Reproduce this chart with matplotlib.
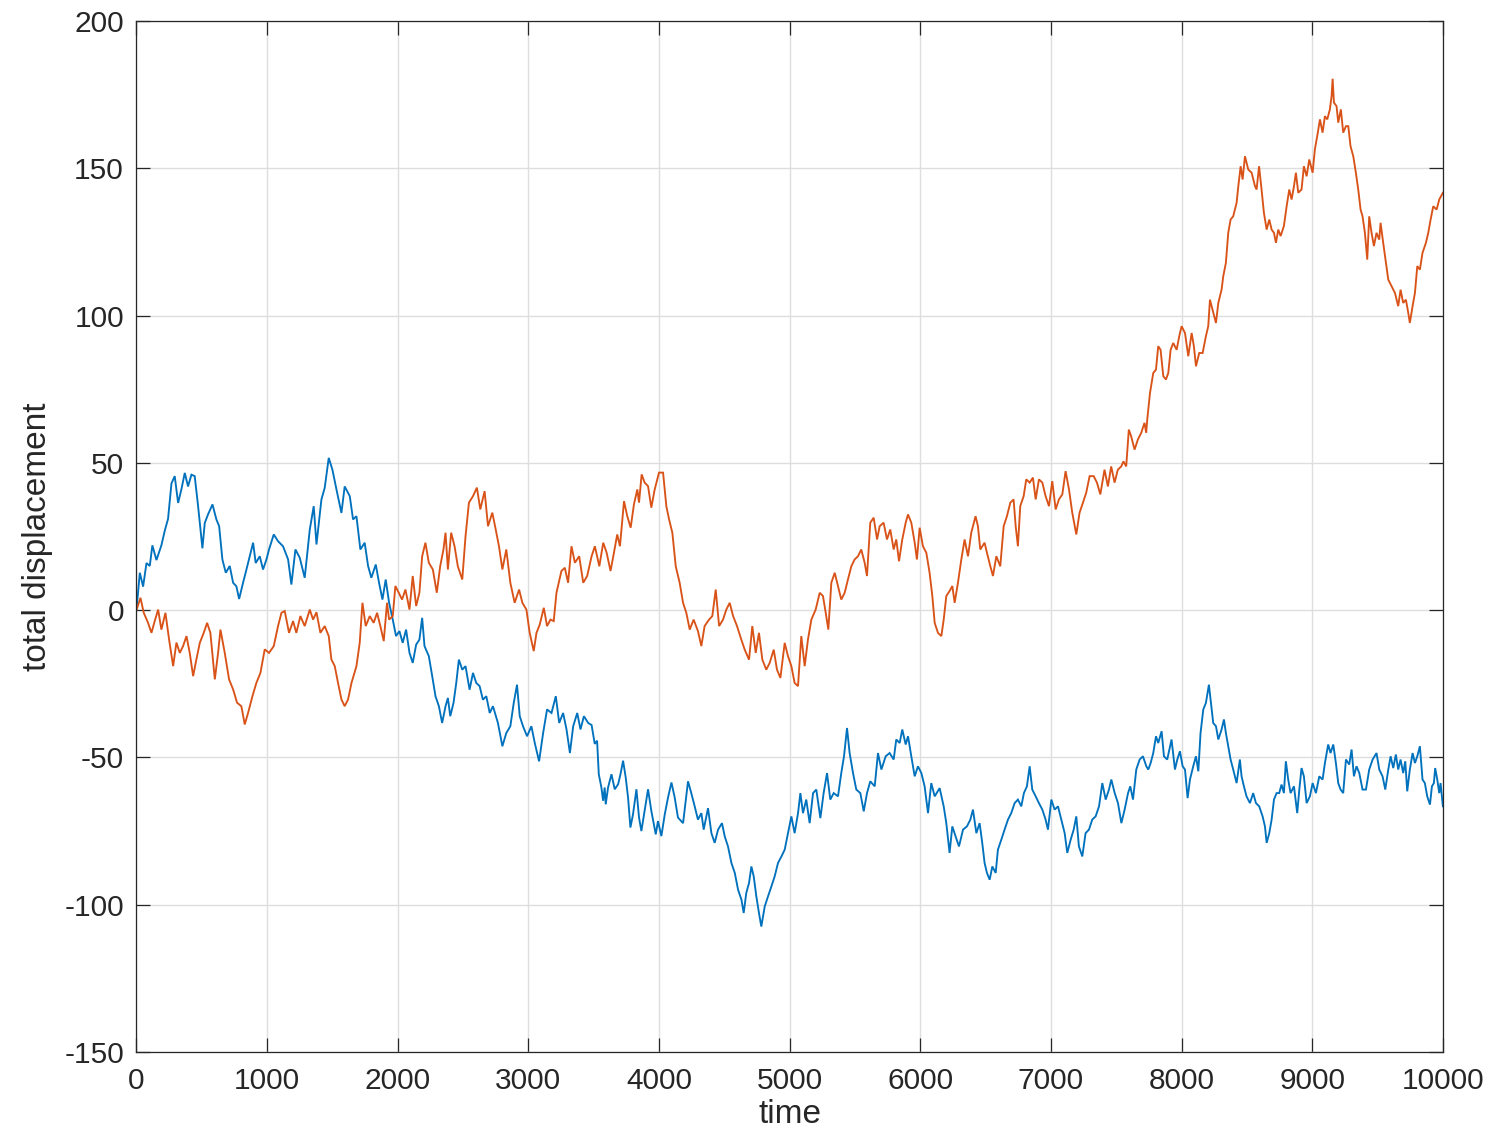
import matplotlib
matplotlib.use("Agg")
import matplotlib.pyplot as plt

# Walker 1 (blue): time step and total displacement
t_blue = [
    0, 26, 51, 77, 102, 122, 153, 191, 217, 242, 268, 293, 319, 344, 370, 395, 421, 446, 472, 505,
    523, 548, 582, 612, 633, 658, 684, 714, 740, 765, 786, 816, 842, 867, 893, 913, 944, 969, 995, 1015,
    1051, 1084, 1122, 1161, 1186, 1217, 1250, 1288, 1327, 1357, 1378, 1416, 1441, 1472, 1500, 1531, 1569, 1594, 1633, 1658,
    1684, 1714, 1747, 1773, 1798, 1832, 1857, 1883, 1908, 1934, 1962, 1987, 2013, 2038, 2064, 2090, 2115, 2141, 2166, 2187,
    2205, 2238, 2264, 2289, 2315, 2340, 2366, 2384, 2402, 2427, 2448, 2468, 2494, 2519, 2550, 2576, 2601, 2627, 2652, 2678,
    2704, 2729, 2767, 2801, 2831, 2862, 2888, 2913, 2934, 2959, 2990, 3023, 3049, 3082, 3113, 3143, 3177, 3210, 3236, 3266,
    3292, 3318, 3343, 3374, 3399, 3425, 3458, 3484, 3508, 3526, 3539, 3559, 3572, 3584, 3592, 3610, 3636, 3661, 3687, 3705,
    3725, 3745, 3763, 3781, 3801, 3827, 3847, 3865, 3890, 3916, 3941, 3975, 3992, 4018, 4044, 4069, 4095, 4120, 4145, 4184,
    4222, 4247, 4273, 4298, 4324, 4342, 4375, 4401, 4426, 4452, 4482, 4503, 4528, 4554, 4580, 4605, 4631, 4648, 4668, 4689,
    4707, 4725, 4745, 4765, 4783, 4809, 4834, 4860, 4885, 4911, 4937, 4962, 4987, 5013, 5038, 5064, 5082, 5102, 5127, 5153,
    5179, 5204, 5235, 5260, 5286, 5311, 5337, 5370, 5395, 5416, 5439, 5459, 5485, 5510, 5541, 5567, 5592, 5617, 5651, 5676,
    5702, 5735, 5765, 5796, 5816, 5842, 5862, 5888, 5906, 5931, 5957, 5982, 6008, 6033, 6059, 6084, 6110, 6148, 6179, 6199,
    6224, 6245, 6270, 6296, 6327, 6357, 6383, 6403, 6429, 6454, 6474, 6492, 6510, 6531, 6551, 6577, 6594, 6620, 6645, 6671,
    6696, 6722, 6747, 6773, 6793, 6816, 6837, 6857, 6883, 6908, 6934, 6959, 6977, 7003, 7028, 7054, 7079, 7105, 7125, 7151,
    7174, 7194, 7214, 7240, 7265, 7291, 7316, 7342, 7368, 7393, 7419, 7444, 7462, 7488, 7513, 7539, 7564, 7590, 7607, 7628,
    7653, 7679, 7704, 7730, 7745, 7763, 7783, 7804, 7821, 7847, 7865, 7890, 7923, 7949, 7967, 7987, 8008, 8026, 8046, 8064,
    8089, 8110, 8128, 8145, 8166, 8186, 8209, 8222, 8242, 8263, 8281, 8306, 8324, 8339, 8357, 8375, 8395, 8421, 8446, 8459,
    8477, 8497, 8523, 8548, 8569, 8594, 8620, 8638, 8651, 8671, 8689, 8707, 8727, 8747, 8765, 8783, 8798, 8816, 8834, 8860,
    8885, 8901, 8918, 8936, 8957, 8982, 9003, 9028, 9054, 9079, 9097, 9122, 9140, 9161, 9181, 9199, 9217, 9237, 9258, 9283,
    9301, 9319, 9339, 9360, 9385, 9411, 9436, 9462, 9492, 9513, 9538, 9559, 9582, 9600, 9620, 9640, 9658, 9676, 9696, 9712,
    9727, 9747, 9768, 9786, 9804, 9824, 9844, 9862, 9880, 9901, 9916, 9931, 9941, 9957, 9972, 9982, 10000,
]
d_blue = [
    0, 12.7, 8, 16, 15, 22, 17, 22, 27, 31, 43, 45.5, 36.4, 41, 46.6, 42, 46, 45.5, 35.3, 21,
    29.6, 32.5, 35.9, 30.8, 28.5, 17.2, 12.7, 15, 9.3, 8.1, 3.8, 9.3, 13.8, 18.3, 22.9, 16, 18.3, 13.8, 17.2, 20.6,
    25.7, 23.4, 21.7, 17.2, 8.7, 20.6, 17.8, 11, 27.4, 35.3, 22.3, 37.6, 41.5, 51.7, 47.7, 41, 33, 42, 38.7, 30.8,
    31.9, 20.6, 22.9, 15, 11, 15.5, 9.3, 3.6, 10.4, 2.5, -3.2, -8.8, -7.1, -11.1, -6.6, -14.5, -17.9, -11.7, -10, -2.6,
    -12.2, -15.6, -22.4, -29.2, -32.6, -38.3, -32.6, -29.8, -36, -31.5, -24.7, -16.8, -20.2, -19, -27, -21.3, -24.7, -25.8, -30.4, -29.2,
    -34.9, -32.6, -38.3, -46.2, -41.7, -39.4, -31.5, -25.3, -36, -39.4, -42.8, -39.4, -45.1, -51.3, -41.7, -33.7, -34.9, -29.2, -38.3, -34.9,
    -40.5, -48.5, -39.4, -34.9, -40.5, -36, -38.3, -39, -45.4, -44.3, -55.7, -60.2, -64.7, -60.2, -65.9, -60.2, -55.7, -60.8, -59.1, -55.7,
    -51.1, -56.8, -63.6, -73.8, -69.3, -60.8, -70.4, -75, -68.1, -60.8, -68.1, -76.1, -71.6, -76.7, -69.3, -63.6, -58.5, -63.6, -70.4, -72.3,
    -58.1, -62.1, -66.6, -71.1, -68.9, -74.5, -67.2, -75.7, -79, -74.5, -72.3, -76.8, -80.2, -85.8, -89.2, -94.9, -98.3, -102.8, -96, -92.6,
    -87, -90.4, -97.2, -102.8, -107.4, -100.6, -97.2, -93.8, -90.4, -85.8, -83.6, -81.3, -75.7, -70, -75.7, -68.9, -62.1, -68.9, -64.3, -72.3,
    -62.1, -60.9, -70.6, -62.1, -55.3, -64.3, -62.1, -63.2, -55.3, -49.6, -40, -48.5, -55.3, -60.9, -62.1, -68.3, -62.1, -58.1, -59.8, -48.5,
    -54.1, -49.6, -48.5, -50.7, -43.9, -45.1, -40.5, -45.6, -42.8, -49.6, -56.4, -53, -55.3, -59.8, -68.9, -58.7, -63.2, -60.4, -66.6, -72.3,
    -82.4, -73.4, -76.8, -80.2, -74.5, -73.4, -71.1, -67.7, -75.7, -72.3, -79, -85.8, -89.2, -91.5, -87, -89.2, -81.3, -77.9, -74.5, -71.1,
    -68.9, -65.5, -64.3, -66.6, -62.1, -59.8, -53, -60.9, -63.2, -65.5, -67.7, -71.1, -74.5, -64.3, -67.7, -66.6, -71.1, -75.7, -82.4, -77.9,
    -74.5, -70, -80.2, -83.6, -75.7, -74.5, -71.1, -70, -66.6, -58.7, -64.3, -60.9, -57.5, -62.1, -65.5, -72.3, -67.7, -62.1, -59.8, -64.3,
    -54.1, -50.7, -49.6, -53, -54.1, -51.9, -48.5, -42.8, -45.1, -41.1, -49.6, -50.7, -43.9, -54.1, -50.7, -47.9, -53, -54.1, -63.8, -57.5,
    -53, -49.6, -54.7, -41.7, -33.7, -31.5, -25.3, -30.4, -38.3, -39.4, -43.9, -40.5, -37.1, -41.7, -46.2, -50.7, -54.1, -58.7, -50.7, -56.4,
    -59.8, -63.2, -65.5, -62.1, -65.5, -66.6, -70, -73.4, -79, -75.7, -71.1, -64.3, -62.1, -62.1, -59.2, -62.1, -51.3, -57.5, -62.1, -59.8,
    -68.9, -60.9, -53.6, -56.4, -65.5, -63.2, -58.7, -62.1, -56.4, -57.5, -51.9, -45.6, -48.5, -45.6, -51.9, -58.7, -60.9, -62.1, -50.7, -52.4,
    -47.3, -56.4, -53, -55.3, -60.9, -60.9, -54.1, -50.7, -48.5, -54.1, -56.4, -60.9, -54.1, -49.6, -53.6, -49, -54.1, -50.7, -55.3, -51.3,
    -61.5, -54.1, -48.5, -51.9, -49.6, -46.2, -57.5, -58.7, -63.2, -66, -59.8, -58.7, -53.6, -57.5, -62.1, -58.7, -66.6,
]

# Walker 2 (orange): time step and total displacement
t_orange = [
    0, 31, 56, 89, 115, 140, 166, 191, 222, 250, 281, 306, 332, 357, 383, 408, 434, 459, 485, 515,
    541, 566, 600, 625, 643, 676, 709, 740, 770, 803, 829, 855, 888, 918, 949, 982, 1015, 1051, 1084, 1110,
    1135, 1168, 1199, 1224, 1255, 1288, 1327, 1352, 1378, 1408, 1441, 1472, 1492, 1518, 1543, 1569, 1594, 1620, 1646, 1684,
    1709, 1730, 1755, 1786, 1816, 1842, 1867, 1893, 1918, 1934, 1962, 1982, 2008, 2033, 2059, 2090, 2115, 2141, 2166, 2187,
    2212, 2238, 2269, 2299, 2325, 2350, 2366, 2384, 2409, 2435, 2460, 2494, 2519, 2545, 2576, 2606, 2632, 2665, 2691, 2724,
    2750, 2775, 2801, 2831, 2862, 2895, 2929, 2954, 2985, 3010, 3041, 3062, 3087, 3118, 3143, 3169, 3194, 3215, 3253, 3279,
    3304, 3330, 3356, 3389, 3420, 3450, 3484, 3509, 3543, 3573, 3599, 3629, 3655, 3680, 3701, 3732, 3757, 3783, 3808, 3834,
    3847, 3867, 3890, 3916, 3941, 3967, 4000, 4031, 4056, 4077, 4102, 4128, 4158, 4184, 4209, 4235, 4265, 4298, 4324, 4349,
    4383, 4408, 4434, 4460, 4490, 4515, 4541, 4567, 4597, 4630, 4656, 4689, 4714, 4740, 4765, 4791, 4821, 4847, 4878, 4903,
    4929, 4962, 4987, 5013, 5038, 5064, 5089, 5115, 5140, 5166, 5199, 5230, 5255, 5276, 5296, 5319, 5345, 5370, 5395, 5421,
    5446, 5472, 5497, 5523, 5548, 5574, 5592, 5617, 5643, 5669, 5689, 5719, 5745, 5770, 5796, 5816, 5837, 5862, 5888, 5906,
    5931, 5957, 5974, 5995, 6020, 6046, 6071, 6092, 6110, 6135, 6161, 6179, 6199, 6224, 6245, 6263, 6288, 6314, 6339, 6365,
    6390, 6423, 6441, 6459, 6492, 6510, 6536, 6556, 6582, 6612, 6638, 6663, 6689, 6714, 6730, 6747, 6765, 6791, 6811, 6837,
    6862, 6883, 6908, 6934, 6959, 6985, 7010, 7036, 7061, 7087, 7112, 7138, 7163, 7194, 7219, 7245, 7270, 7296, 7327, 7352,
    7378, 7410, 7436, 7461, 7487, 7512, 7538, 7555, 7576, 7596, 7614, 7640, 7665, 7691, 7716, 7729, 7737, 7758, 7783, 7804,
    7821, 7839, 7860, 7880, 7898, 7916, 7936, 7962, 7982, 8000, 8026, 8051, 8077, 8094, 8110, 8135, 8161, 8186, 8204, 8217,
    8237, 8263, 8281, 8306, 8319, 8339, 8357, 8375, 8395, 8421, 8434, 8452, 8467, 8485, 8510, 8536, 8562, 8574, 8593, 8612,
    8630, 8651, 8671, 8689, 8707, 8722, 8740, 8758, 8783, 8804, 8824, 8842, 8860, 8875, 8893, 8918, 8936, 8957, 8977, 9003,
    9020, 9038, 9059, 9079, 9097, 9115, 9135, 9148, 9156, 9166, 9186, 9199, 9219, 9237, 9258, 9276, 9293, 9314, 9334, 9352,
    9370, 9385, 9403, 9421, 9436, 9454, 9472, 9492, 9513, 9523, 9543, 9564, 9582, 9607, 9633, 9658, 9676, 9696, 9717, 9735,
    9747, 9768, 9786, 9804, 9824, 9844, 9870, 9888, 9906, 9926, 9952, 9972, 10000,
]
d_orange = [
    0, 4.2, -0.9, -4.3, -7.7, -3.7, 0.2, -6.6, -0.9, -10, -19, -11, -14.5, -12.2, -8.8, -14.5, -22.4, -16.7, -11.1, -7.7,
    -4.3, -7.7, -23.5, -14.5, -6.6, -14.5, -23.5, -26.9, -31.4, -32.6, -38.8, -34.8, -29.2, -24.7, -21.3, -13.3, -14.5, -12.2, -5.4, -0.9,
    -0.3, -7.7, -3.7, -7.7, -2, -5.4, 0.2, -3.2, -0.7, -7.7, -5.4, -8.8, -16.7, -19, -24.7, -30.3, -32.6, -30.3, -24.7, -19,
    -11.1, 2.5, -5.4, -2, -4.3, -0.9, -5.4, -10.5, 2.5, -3.2, -2, 8.2, 5.9, 3.6, 7, 0.2, 11.6, 1.4, 5.9, 18.3,
    22.9, 16.1, 13.8, 5.9, 14.9, 20.6, 26.3, 13.8, 26.3, 21.7, 14.9, 10.4, 25.1, 36.5, 38.7, 41.6, 34.2, 40.4, 28.5, 33.1,
    27.4, 21.7, 13.8, 20.6, 9.3, 2.5, 7, 2.5, 0.2, -7.7, -13.9, -7.7, -4.9, 0.8, -5.4, -3.2, -3.7, 5.9, 13.3, 14.4,
    9.3, 21.7, 16.1, 18.3, 9.3, 11.6, 18.3, 21.7, 14.9, 22.9, 19.5, 13.3, 19.5, 25.7, 21.7, 37, 31.9, 28, 35.9, 41,
    36.5, 46.1, 43.3, 42.1, 34.8, 41, 46.7, 46.7, 35.3, 30.8, 26.3, 14.9, 9.3, 2.5, -0.9, -6.6, -3.2, -7.1, -12.2, -5.4,
    -3.2, -2, 7, -5.4, -3.2, 0.2, 2.5, -2, -5.4, -10, -13.4, -16.8, -5.4, -14.5, -7.7, -16.8, -20.2, -17.9, -13.4, -20.2,
    -23, -11.1, -15.6, -19, -24.7, -25.8, -8.8, -19, -10, -3.2, 0.2, 5.9, 4.8, -0.9, -6.6, 9.3, 12.7, 8.2, 3.6, 5.9,
    10.4, 14.9, 17.2, 18.3, 20.6, 16.1, 11.6, 29.7, 31.4, 24, 28.5, 29.7, 24, 27.4, 20.6, 24, 16.6, 24, 29.7, 32.5,
    29.7, 22.9, 17.2, 28, 21.7, 19.5, 12.7, 4.8, -4.3, -7.7, -8.8, -3.2, 4.8, 6.5, 8.2, 2.5, 9.3, 17.2, 24, 18.3,
    26.3, 31.9, 28.5, 20.6, 22.9, 19.5, 14.9, 11.6, 18.3, 14.9, 28.5, 31.9, 36.5, 37.6, 28.5, 21.7, 35.3, 38.7, 44.4, 43.3,
    45, 37.6, 44.4, 43.3, 38.7, 35.3, 43.8, 34.2, 37.6, 39.3, 47.2, 41, 33.1, 25.7, 33.1, 36.5, 39.9, 45.5, 45.5, 43.3,
    39.3, 47.7, 42, 48.8, 43.3, 47.7, 48.8, 50.5, 48.8, 61.3, 59, 54.5, 57.9, 60.2, 63.6, 60.2, 64.7, 73.7, 80.5, 81.7,
    89.6, 88.4, 79.4, 78.3, 80.5, 88.4, 90.7, 88.4, 93, 96.4, 94.1, 86.2, 94.1, 89.6, 82.8, 87.3, 87.3, 93, 96.4, 105.4,
    102, 97.5, 104.3, 108.8, 113.4, 117.9, 128.1, 132.6, 133.7, 138.3, 143.9, 150.7, 146.2, 154.1, 149.6, 148.5, 143.9, 142.8, 150.7, 142.8,
    134.9, 129.2, 132.6, 129.2, 128.1, 124.7, 129.2, 127, 130.4, 137.1, 142.8, 139.4, 143.9, 148.5, 141.7, 142.8, 150.7, 147.3, 153, 148.5,
    156.4, 160.9, 166.6, 162.1, 167.7, 166.6, 170, 174.5, 180.4, 172.3, 171.1, 165.5, 170, 162.1, 164.3, 164.3, 157.5, 154.1, 148.5, 142.8,
    136, 133.7, 128.1, 119, 133.7, 128.1, 123.6, 128.1, 125.8, 131.5, 124.7, 117.9, 112.2, 110, 107.7, 103.2, 108.8, 104.3, 105.4, 100.9,
    97.5, 103.2, 107.7, 116.8, 115.6, 121.3, 124.7, 128.1, 132.6, 137.1, 136, 139.4, 141.7,
]

x_ticks = [0, 1000, 2000, 3000, 4000, 5000, 6000, 7000, 8000, 9000, 10000]
y_ticks = [-150, -100, -50, 0, 50, 100, 150, 200]

TEXT = "#262626"
plt.rcParams["font.family"] = ["Liberation Sans", "DejaVu Sans"]

fig = plt.figure(figsize=(14.96, 11.30), dpi=100)
ax = fig.add_axes([0.0912, 0.0690, 0.8733, 0.9124])

ax.plot(t_blue, d_blue, color="#0072BD", lw=1.35, solid_joinstyle="miter")
ax.plot(t_orange, d_orange, color="#D95319", lw=1.35, solid_joinstyle="miter")

ax.set_xlim(0, 10000)
ax.set_ylim(-150, 200)
ax.set_xticks(x_ticks)
ax.set_yticks(y_ticks)
ax.set_xticklabels([str(v) for v in x_ticks])
ax.set_yticklabels([str(v) for v in y_ticks])

ax.grid(True, color="#dedede", lw=1.0)
ax.set_axisbelow(True)
for s in ax.spines.values():
    s.set_color(TEXT)
    s.set_linewidth(0.9)

ax.tick_params(axis="both", which="both", direction="in", length=10, width=0.9,
               color=TEXT, labelcolor=TEXT, labelsize=21.5,
               top=True, right=True)
ax.tick_params(axis="y", pad=9)
ax.tick_params(axis="x", pad=11)

ax.set_xlabel("time", fontsize=24, color=TEXT, labelpad=3)
ax.set_ylabel("total displacement", fontsize=24, color=TEXT, labelpad=8)

fig.savefig("out.png", dpi=100)
